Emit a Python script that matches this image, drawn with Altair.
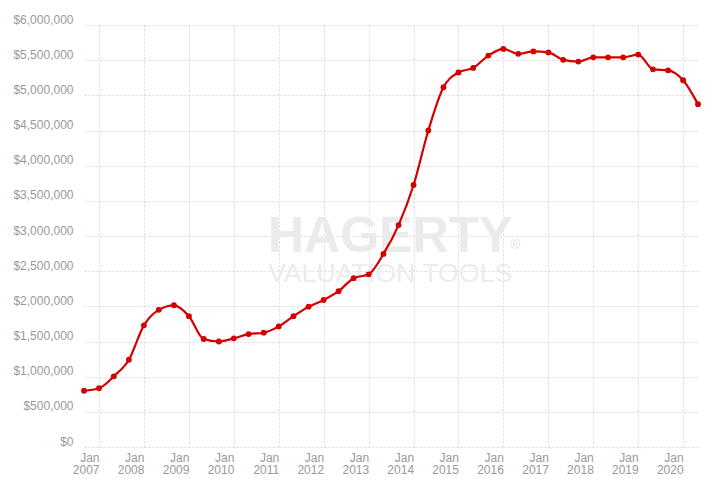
import altair as alt
import pandas as pd

dates = [
    "2006/09/01", "2007/01/01", "2007/05/01", "2007/09/01",
    "2008/01/01", "2008/05/01", "2008/09/01",
    "2009/01/01", "2009/05/01", "2009/09/01",
    "2010/01/01", "2010/05/01", "2010/09/01",
    "2011/01/01", "2011/05/01", "2011/09/01",
    "2012/01/01", "2012/05/01", "2012/09/01",
    "2013/01/01", "2013/05/01", "2013/09/01",
    "2014/01/01", "2014/05/01", "2014/09/01",
    "2015/01/01", "2015/05/01", "2015/09/01",
    "2016/01/01", "2016/05/01", "2016/09/01",
    "2017/01/01", "2017/05/01", "2017/09/01",
    "2018/01/01", "2018/05/01", "2018/09/01",
    "2019/01/01", "2019/05/01", "2019/09/01",
    "2020/01/01", "2020/05/01",
]
values = [
    800000, 835000, 1005000, 1240000,
    1730000, 1950000, 2015000,
    1860000, 1535000, 1500000,
    1545000, 1605000, 1625000,
    1715000, 1860000, 1995000,
    2090000, 2215000, 2400000,
    2455000, 2745000, 3155000,
    3725000, 4500000, 5115000,
    5325000, 5390000, 5565000,
    5660000, 5590000, 5625000,
    5610000, 5505000, 5480000,
    5540000, 5540000, 5540000,
    5580000, 5370000, 5355000,
    5215000, 4875000,
]
tick_years = list(range(2007, 2021))
y_ticks = [0, 500000, 1000000, 1500000, 2000000, 2500000, 3000000,
           3500000, 4000000, 4500000, 5000000, 5500000, 6000000]
watermark_main = "HAGERTY"
watermark_sub = "VALUATION TOOLS"
watermark_mark = "®"

df = pd.DataFrame({"date": dates, "value": values})

FONT = "Liberation Sans"
LABEL = "#999999"
GRID = "#d9d9d9"
RED = "#d40000"

x_axis = alt.Axis(
    title=None,
    values=[alt.DateTime(year=y, month=1, date=1) for y in tick_years],
    tickCount=30,
    labelExpr="['Jan', timeFormat(datum.value, '%Y')]",
    labelAlign="right",
    labelBaseline="top",
    labelPadding=5,
    labelLineHeight=12,
    labelFlush=False,
    labelOverlap=False,
    grid=True,
    gridDash=[2, 2],
    gridColor=GRID,
    domain=False,
    ticks=False,
)
y_axis = alt.Axis(
    title=None,
    values=y_ticks,
    tickCount=30,
    format="$,.0f",
    labelBaseline="alphabetic",
    labelOffset=-2,
    labelPadding=11,
    labelOverlap=False,
    labelFlush=False,
    grid=True,
    gridDash=[2, 2],
    gridColor=GRID,
    domain=False,
    ticks=False,
)
x_scale = alt.Scale(domain=[alt.DateTime(year=2006, month=9, date=1),
                            alt.DateTime(year=2020, month=5, date=1)])
y_scale = alt.Scale(domain=[0, 6000000], nice=False)

wm1 = alt.Chart(pd.DataFrame({"t": [watermark_main]})).mark_text(
    font=FONT, fontWeight="bold", fontSize=50,
    align="left", baseline="alphabetic", color="#ebebeb",
).encode(text="t:N", x=alt.value(184), y=alt.value(227))

wm2 = alt.Chart(pd.DataFrame({"t": [watermark_sub]})).mark_text(
    font=FONT, fontSize=26.7, align="left", baseline="alphabetic", color="#ececec",
).encode(text="t:N", x=alt.value(184), y=alt.value(257))

wm3 = alt.Chart(pd.DataFrame({"t": [watermark_mark]})).mark_text(
    font=FONT, fontSize=14, align="left", baseline="middle", color="#e6e6e6",
).encode(text="t:N", x=alt.value(426), y=alt.value(220))

base = alt.Chart(df).encode(
    x=alt.X("date:T", scale=x_scale, axis=x_axis),
    y=alt.Y("value:Q", scale=y_scale, axis=y_axis),
)

line = base.mark_line(interpolate="monotone", color=RED, strokeWidth=2.2)
pts = base.mark_circle(color=RED, size=34, opacity=1)

chart = alt.layer(wm1, wm2, wm3, line, pts).properties(
    width=614, height=422,
    autosize=alt.AutoSizeParams(type="none"),
    padding={"left": 76, "top": 17, "right": 13, "bottom": 32},
    background="white",
).configure_view(stroke=None).configure_axis(
    labelFont=FONT, labelFontSize=12, labelColor=LABEL,
)

chart.save("out.html", embed_options={"renderer": "svg", "actions": False})
